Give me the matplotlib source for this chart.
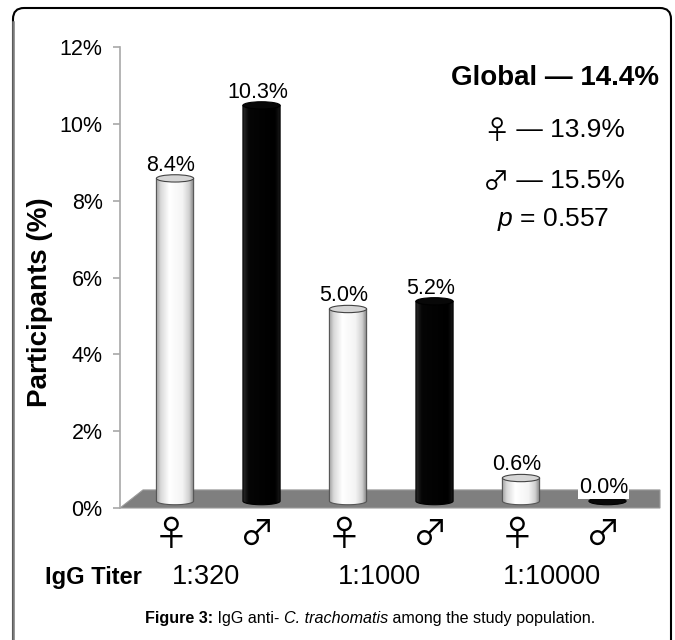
import numpy as np
import matplotlib
matplotlib.use('Agg')
import matplotlib.pyplot as plt
from matplotlib.patches import Polygon, Ellipse, FancyBboxPatch
from matplotlib.lines import Line2D
from matplotlib.colors import LinearSegmentedColormap

plt.rcParams['font.family'] = ['Liberation Sans', 'DejaVu Sans']
plt.rcParams['mathtext.fontset'] = 'custom'
plt.rcParams['mathtext.it'] = 'Liberation Sans:italic'
plt.rcParams['mathtext.rm'] = 'Liberation Sans'

# ---------------- data ----------------
titers = ['1:320', '1:1000', '1:10000']
sex_symbols = ['\u2640', '\u2642']
female_pct = [8.4, 5.0, 0.6]
male_pct = [10.3, 5.2, 0.0]
y_ticks = [0, 2, 4, 6, 8, 10, 12]
y_tick_labels = ['0%', '2%', '4%', '6%', '8%', '10%', '12%']
summary_global = 'Global \u2014 14.4%'
summary_sex = ['\u2640 \u2014 13.9%', '\u2642 \u2014 15.5%']
summary_p = r'$\it{p}$ = 0.557'
ylabel = 'Participants (%)'
xlabel = 'IgG Titer'
caption_bold = 'Figure 3:'
caption_rest = ' IgG anti- '
caption_italic = 'C. trachomatis'
caption_end = ' among the study population.'

W, H = 675, 640
fig = plt.figure(figsize=(W / 100, H / 100), dpi=100)
fig.patch.set_facecolor('white')
SYM_FONT = ['Noto Sans CJK JP', 'DejaVu Sans']

def fx(px):
    return px / W

def fy(py):
    return 1 - py / H

# outer frame
frame = FancyBboxPatch((13, -40), 658, 40 + (H - 8), boxstyle='round,pad=0,rounding_size=11',
                       transform=None, facecolor='none', edgecolor='black', lw=1.5, zorder=0)
fig.add_artist(frame)
fig.add_artist(Line2D([fx(13), fx(13)], [0, fy(22)], color='#7a7a7a', lw=1.8))

ax = fig.add_axes([fx(120), fy(508), fx(660) - fx(120), (508 - 47) / H])
ax.set_facecolor('none')

xlim = (-0.636, 5.607)
base = 0.18       # depth offset of bar bases on the floor
bw = 0.43         # cylinder width
eh = 0.19         # ellipse height (in % units)

# floor
floor = Polygon([(xlim[0], 0), (-0.37, 0.47), (xlim[1], 0.47), (xlim[1], 0)], closed=True,
                facecolor='#7f7f7f', edgecolor='#9a9a9a', lw=0.8, zorder=1, clip_on=False)
ax.add_patch(floor)

white_cmap = LinearSegmentedColormap.from_list('w', [(0, '#9a9a9a'), (0.12, '#d8d8d8'), (0.35, '#ffffff'),
                                                     (0.7, '#f4f4f4'), (0.88, '#cfcfcf'), (1, '#7a7a7a')])
black_cmap = LinearSegmentedColormap.from_list('b', [(0, '#2a2a2a'), (0.15, '#050505'), (0.85, '#000000'),
                                                     (1, '#1e1e1e')])

values = []
colors = []
for f, m in zip(female_pct, male_pct):
    values += [f, m]
    colors += ['white', 'black']
positions = np.arange(len(values))

grad = np.linspace(0, 1, 256).reshape(1, -1)

def cylinder(x, v, kind):
    t = np.linspace(np.pi, 2 * np.pi, 60)
    bottom = np.column_stack([x + bw / 2 * np.cos(t), base + eh / 2 * np.sin(t)])
    if v > 0:
        verts = np.vstack([[x - bw / 2, base + v], bottom, [x + bw / 2, base + v]])
        body = Polygon(verts, closed=True, facecolor='none',
                       edgecolor='#555555' if kind == 'white' else 'black', lw=0.8, zorder=3.1)
        ax.add_patch(body)
        im = ax.imshow(grad, extent=[x - bw / 2, x + bw / 2, base - eh / 2, base + v], aspect='auto',
                       cmap=white_cmap if kind == 'white' else black_cmap, zorder=3, interpolation='bicubic')
        im.set_clip_path(body)
    top = Ellipse((x, base + v), bw, eh,
                  facecolor='#d6d6d6' if kind == 'white' else '#080808',
                  edgecolor='#444444' if kind == 'white' else 'black', lw=0.8, zorder=3.2)
    ax.add_patch(top)

for x, v, c in zip(positions, values, colors):
    cylinder(x, v, c)
    kw = {}
    if v == 0:
        kw['bbox'] = dict(facecolor='white', edgecolor='none', pad=0.5)
    ax.annotate(f'{v:.1f}%', xy=(x, base + v + eh / 2), xytext=(-3, 3), textcoords='offset points',
                ha='center', va='baseline', fontsize=15.5, zorder=5, **kw)

# sex symbols under each bar
for i, x in enumerate(positions):
    ax.annotate(sex_symbols[i % 2], xy=(x, 0), xytext=(-3, -20), textcoords='offset points',
                ha='center', va='center', fontsize=25, family=SYM_FONT,
                annotation_clip=False)

# titer group labels
for g, lab in enumerate(titers):
    xc = positions[2 * g:2 * g + 2].mean()
    ax.annotate(lab, xy=(xc, 0), xytext=(-8.6, -54.5), textcoords='offset points',
                ha='center', va='baseline', fontsize=19.5, annotation_clip=False)

ax.set_xlim(*xlim)
ax.set_ylim(0, 12)
ax.set_yticks(y_ticks)
ax.set_yticklabels(y_tick_labels, fontsize=15.5)
ax.set_xticks([])
for s in ['top', 'right', 'bottom']:
    ax.spines[s].set_visible(False)
ax.spines['left'].set_color('#a8a8a8')
ax.spines['left'].set_linewidth(1.2)
ax.tick_params(axis='y', colors='#a8a8a8', length=5, width=1.2, pad=7.5, labelcolor='black')

# y label and x label
fig.text(fx(40), fy(302), ylabel, rotation=90, ha='center', va='center', fontsize=20, weight='bold')
fig.text(fx(93), fy(584), xlabel, ha='center', va='baseline', fontsize=17, weight='bold')

# summary block
fig.text(fx(555), fy(85), summary_global, ha='center', va='baseline', fontsize=20, weight='bold')
fig.canvas.draw()
r = fig.canvas.get_renderer()
for line, yb in zip(summary_sex, [137, 188]):
    s = fig.text(fx(483), fy(yb + 2), line[0], ha='left', va='baseline', fontsize=19,
                 family=SYM_FONT)
    bb = s.get_window_extent(r)
    fig.text(bb.x1 / W, fy(yb), line[1:], ha='left', va='baseline', fontsize=19)
fig.text(fx(553), fy(226), summary_p, ha='center', va='baseline', fontsize=19)

# caption
cap = fig.text(fx(145), fy(623), caption_bold, ha='left', va='baseline', fontsize=11.6, weight='bold')
bb = cap.get_window_extent(r)
t2 = fig.text(bb.x1 / W, fy(623), caption_rest, ha='left', va='baseline', fontsize=11.6)
bb = t2.get_window_extent(r)
t3 = fig.text(bb.x1 / W, fy(623), caption_italic, ha='left', va='baseline', fontsize=11.6, style='italic')
bb = t3.get_window_extent(r)
fig.text(bb.x1 / W, fy(623), caption_end, ha='left', va='baseline', fontsize=11.6)

fig.savefig('out.png', dpi=100)
